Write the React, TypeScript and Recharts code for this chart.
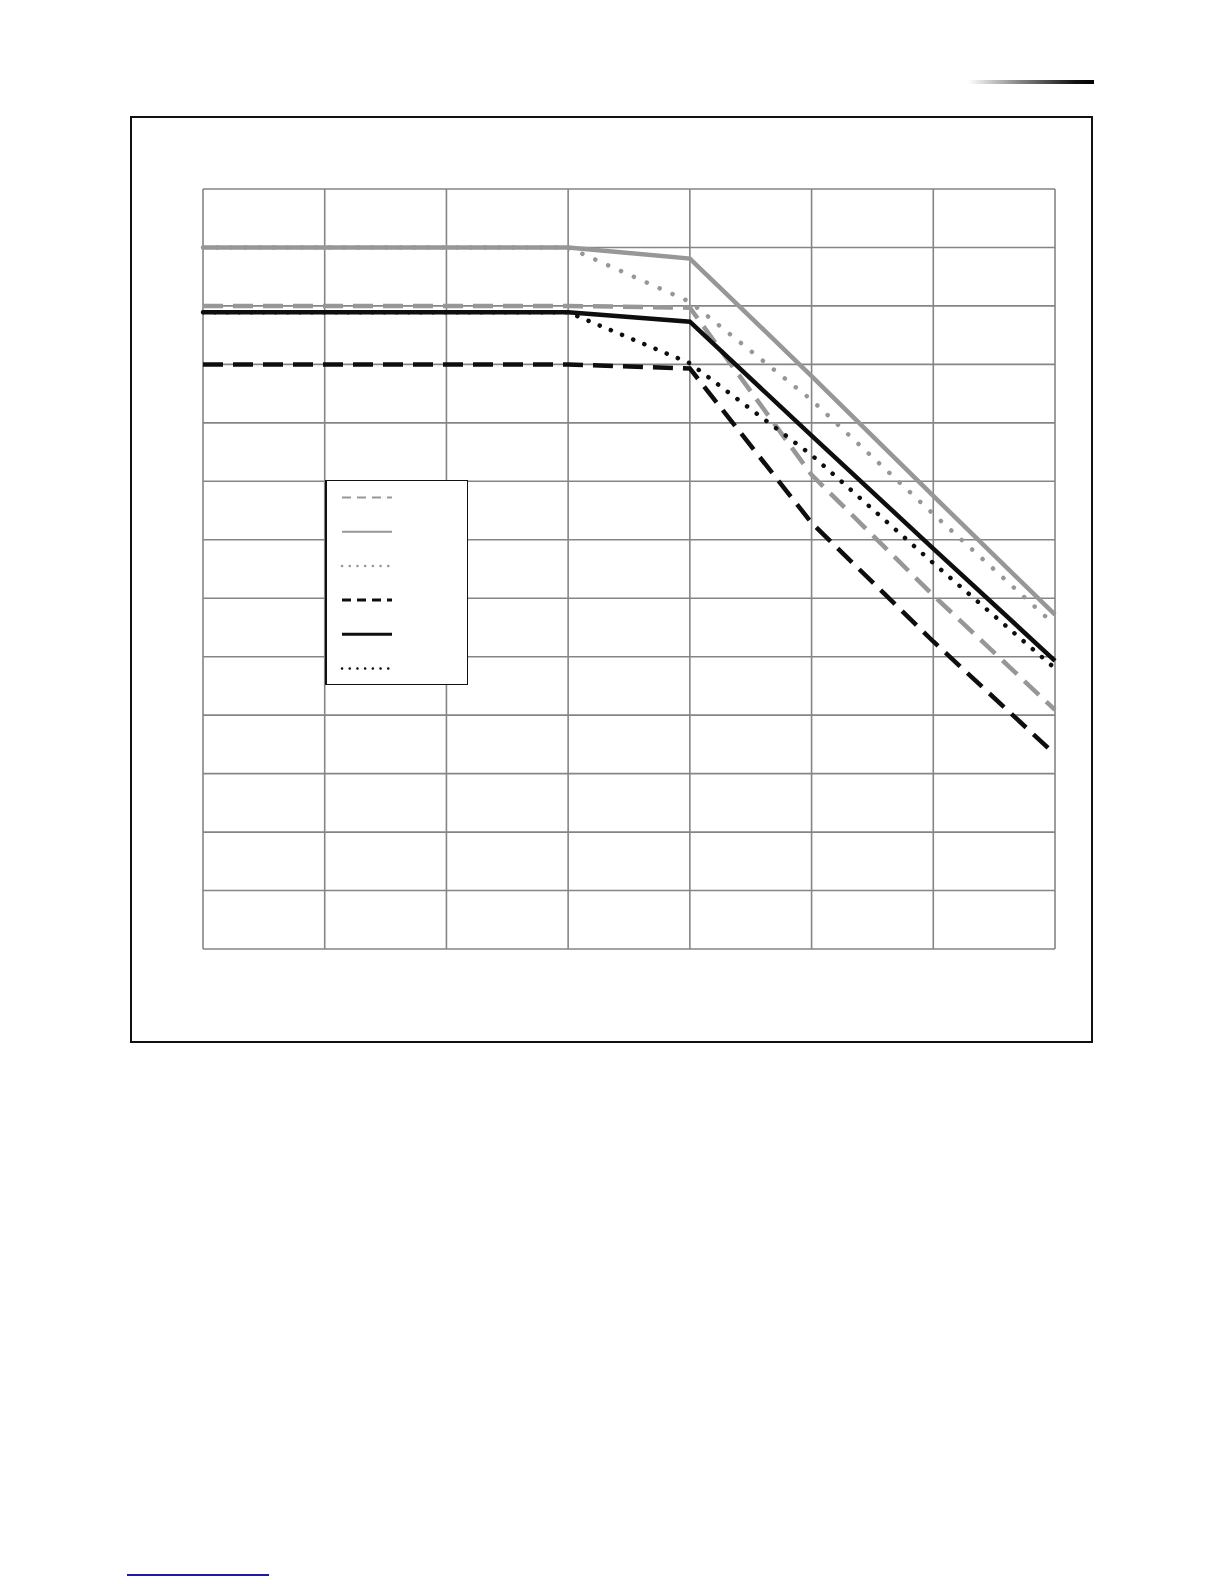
import React from 'react';
import { LineChart, Line, XAxis, YAxis, CartesianGrid, Legend } from 'recharts';

// x positions (7 equal columns) and y grid steps (13 rows)
const xValues = [0, 1, 2, 3, 4, 5, 6, 7];
const yTicks = [0, 1, 2, 3, 4, 5, 6, 7, 8, 9, 10, 11, 12, 13];

const grayDashed = [11, 11, 11, 11, 10.97, 8.11, 6.05, 4.09];
const graySolid = [12, 12, 12, 12, 11.81, 9.8, 7.75, 5.72];
const grayDotted = [12, 12, 12, 12, 11.07, 9.39, 7.44, 5.54];
const blackDashed = [10, 10, 10, 10, 9.93, 7.29, 5.26, 3.33];
const blackSolid = [10.89, 10.89, 10.89, 10.89, 10.73, 8.78, 6.85, 4.93];
const blackDotted = [10.89, 10.89, 10.89, 10.89, 10.02, 8.45, 6.6, 4.8];

const GRAY = '#979797';
const BLACK = '#0e0e0e';
const GRID = '#858585';

interface SeriesStyle {
  key: string;
  color: string;
  dash?: string;
  cap: 'butt' | 'round';
}

// legend order, top to bottom
const series: SeriesStyle[] = [
  { key: 'grayDashed', color: GRAY, dash: '20 10', cap: 'butt' },
  { key: 'graySolid', color: GRAY, cap: 'butt' },
  { key: 'grayDotted', color: GRAY, dash: '0.1 14', cap: 'round' },
  { key: 'blackDashed', color: BLACK, dash: '20 10', cap: 'butt' },
  { key: 'blackSolid', color: BLACK, cap: 'butt' },
  { key: 'blackDotted', color: BLACK, dash: '0.1 12', cap: 'round' },
];

// draw order (gray underneath)
const drawOrder = ['graySolid', 'grayDashed', 'grayDotted', 'blackDashed', 'blackDotted', 'blackSolid'];

const data = xValues.map((x, i) => ({
  x,
  grayDashed: grayDashed[i],
  graySolid: graySolid[i],
  grayDotted: grayDotted[i],
  blackDashed: blackDashed[i],
  blackSolid: blackSolid[i],
  blackDotted: blackDotted[i],
}));

const LegendBox = () => (
  <div style={{ width: 143, height: 205, border: '1.5px solid #111', borderLeftWidth: 2, boxSizing: 'border-box', background: '#fff' }}>
    <svg width={140} height={202}>
      {series.map((s, i) => {
        const y = 16.5 + i * 34.2;
        const small = s.key.startsWith('gray');
        return (
          <line
            key={s.key}
            x1={15}
            x2={65}
            y1={y}
            y2={y}
            stroke={s.color}
            strokeWidth={s.dash && s.cap === 'round' ? 2.5 : small ? 2 : 3}
            strokeDasharray={s.dash ? (s.cap === 'round' ? '0.1 7.6' : '9 6') : undefined}
            strokeLinecap={s.cap === 'round' ? 'round' : 'butt'}
          />
        );
      })}
    </svg>
  </div>
);

export default function App() {
  return (
    <div style={{ position: 'absolute', left: 0, top: 0, width: 1210, height: 1580, overflow: 'hidden', background: '#fff' }}>
      {/* header rule */}
      <div style={{ position: 'absolute', left: 968, top: 80, width: 126, height: 4, background: 'linear-gradient(to right, #ffffff, #888 40%, #111 85%, #000)' }} />
      {/* outer frame */}
      <div style={{ position: 'absolute', left: 130, top: 116, width: 963, height: 927, border: '2px solid #111', boxSizing: 'border-box' }} />
      {/* link underline */}
      <div style={{ position: 'absolute', left: 127, top: 1574, width: 142, height: 2, background: '#1b1ba6' }} />
      <div style={{ position: 'absolute', left: 0, top: 0 }}>
        <LineChart width={1210} height={1580} data={data} margin={{ left: 203, top: 189, right: 155, bottom: 631 }}>
          <CartesianGrid stroke={GRID} strokeWidth={1.6} />
          <XAxis
            dataKey="x"
            type="number"
            domain={[0, 7]}
            ticks={xValues}
            height={0}
            tickLine={false}
            tickFormatter={() => ''}
            axisLine={{ stroke: GRID, strokeWidth: 2 }}
          />
          <YAxis
            type="number"
            domain={[0, 13]}
            ticks={yTicks}
            width={0}
            tickSize={5}
            tickLine={{ stroke: GRID, strokeWidth: 2 }}
            tickFormatter={() => ''}
            axisLine={{ stroke: GRID, strokeWidth: 3 }}
          />
          <Legend
            layout="vertical"
            align="center"
            verticalAlign="middle"
            content={() => <LegendBox />}
            wrapperStyle={{ left: 325, top: 480, width: 143, height: 205 }}
          />
          {drawOrder.map((k) => {
            const s = series.find((d) => d.key === k)!;
            return (
              <Line
                key={k}
                dataKey={k}
                type="linear"
                stroke={s.color}
                strokeWidth={4.5}
                strokeDasharray={s.dash}
                strokeLinecap={s.cap}
                dot={false}
                activeDot={false}
                isAnimationActive={false}
              />
            );
          })}
        </LineChart>
      </div>
    </div>
  );
}
